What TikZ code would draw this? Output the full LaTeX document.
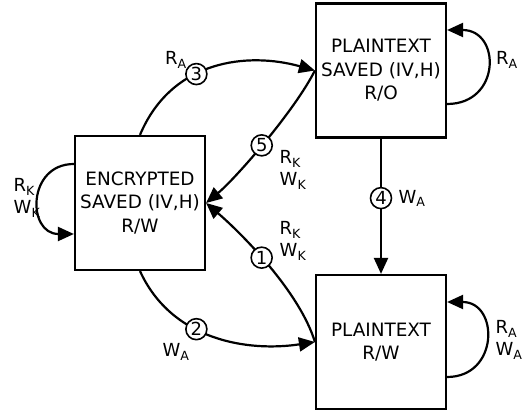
\documentclass[tikz,border=0pt]{standalone}
\usepackage{fontspec}
\setmainfont{DejaVu Sans}
\usetikzlibrary{arrows.meta}
\begin{document}
\begin{tikzpicture}[x=1pt,y=1pt,
  state/.style={draw, line width=2.2pt, minimum width=130pt, minimum height=134pt, inner sep=0pt, align=center, font=\fontsize{18.4}{23.5}\selectfont},
  conn/.style={line width=2.2pt, -{Triangle[length=16pt,width=14pt]}},
  num/.style={circle, draw, fill=white, line width=1.6pt, minimum size=21pt, inner sep=0pt, font=\fontsize{18}{18}\selectfont},
  lbl/.style={align=left, inner sep=0pt, font=\fontsize{18}{22}\selectfont}]
\useasboundingbox (0,0) rectangle (522,412);

\node[state] (enc) at (140,209) {ENCRYPTED\\SAVED (IV,H)\\R/W};
\node[state] (ps) at (381,341.5) {PLAINTEXT\\SAVED (IV,H)\\R/O};
\node[state] (prw) at (381,70) {PLAINTEXT\\R/W};

% 3
\draw[conn] (enc.north) .. controls +(32,76) and +(-66,18.5) .. node[num,pos=0.4] {3} (ps.west);
\node[lbl] (l3) at (176,352) {R\textsubscript{A}};
% 5
\draw[conn] (ps.west) .. controls +(-20,-40) and +(30,25) .. node[num,pos=0.52] {5} (enc.east);
\node[lbl] (l5) at (293,242) {R\textsubscript{K}\\W\textsubscript{K}};
% 1
\draw[conn] (prw.west) .. controls +(-15,50) and +(35,-30) .. node[num,pos=0.55] {1} (enc.east);
\node[lbl] (l1) at (293,171) {R\textsubscript{K}\\W\textsubscript{K}};
% 2
\draw[conn] (enc.south) .. controls +(32,-70) and +(-66,-10) .. node[num,pos=0.4] {2} (prw.west);
\node[lbl] (l2) at (176,60) {W\textsubscript{A}};
% 4
\draw[conn] (ps.south) -- node[num,pos=0.44] (c4) {4} (prw.north);
\node[lbl, anchor=west] (l4) at ([xshift=6pt]c4.east) {W\textsubscript{A}};

% self loops
\draw[conn] ([yshift=39pt]enc.west) .. controls +(-47,0) and +(-47,0) .. ([yshift=-31pt]enc.west);
\node[lbl] (le) at (27,214) {R\textsubscript{K}\\W\textsubscript{K}};

\draw[conn] ([yshift=-33.5pt]ps.east) .. controls +(54,0) and +(54,0) .. ([yshift=40.5pt]ps.east);
\node[lbl] (lp) at (507,352) {R\textsubscript{A}};

\draw[conn] ([yshift=-35pt]prw.east) .. controls +(52,0) and +(52,0) .. ([yshift=40pt]prw.east);
\node[lbl] (lr) at (509,72) {R\textsubscript{A}\\W\textsubscript{A}};
\end{tikzpicture}
\end{document}
